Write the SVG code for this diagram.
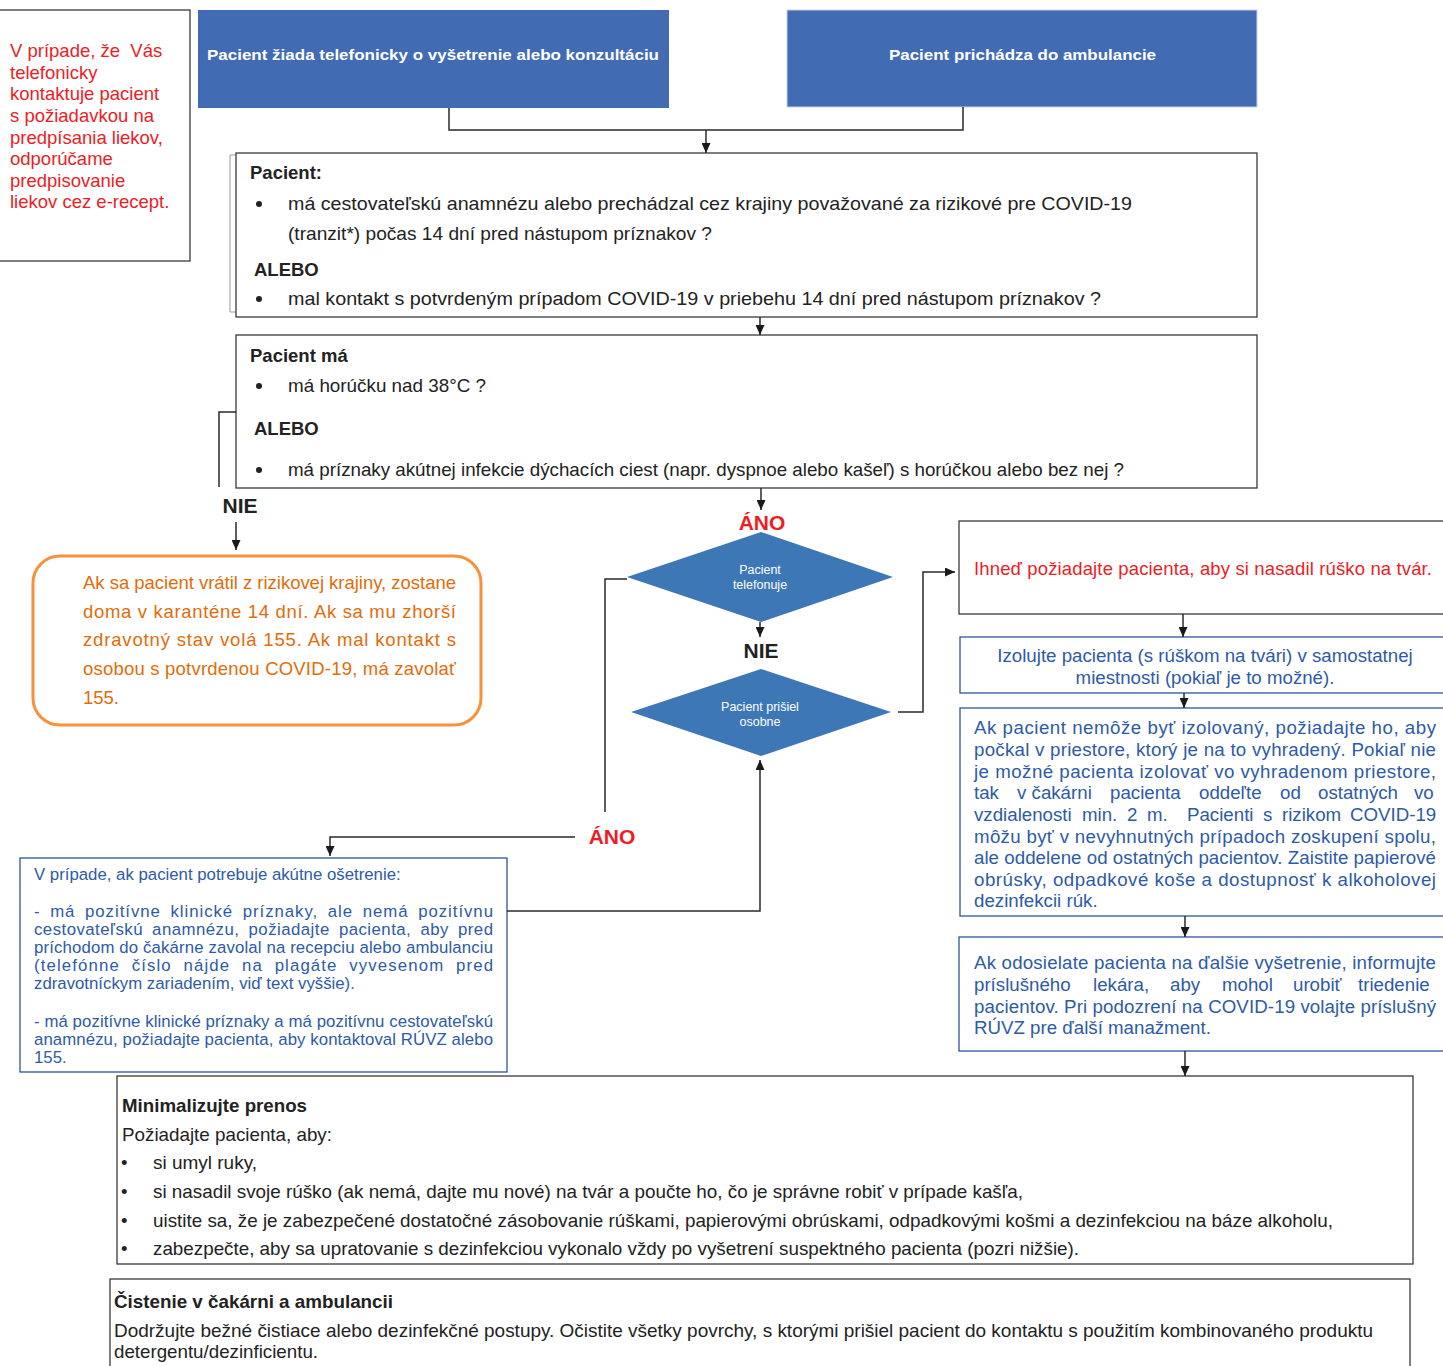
<svg xmlns="http://www.w3.org/2000/svg" width="1443" height="1366" viewBox="0 0 1443 1366">
<style>
text{font-family:"Liberation Sans",Arial,sans-serif;}
.box{fill:#fff;stroke:#3a3a3a;stroke-width:1.3;}
.bbox{fill:#fff;stroke:#2f5597;stroke-width:1.3;}
.blue{fill:#416bb3;}
.dia{fill:#3e77b6;}
.wt{fill:#fff;font-weight:bold;font-size:15px;}
.dt{fill:#fff;font-size:12.5px;}
.red{fill:#ee1c25;font-size:18.5px;}
.k{fill:#222;font-size:18.5px;}
.kb{fill:#222;font-size:18.5px;font-weight:bold;}
.or{fill:#e36c0a;font-size:18.5px;}
.bl{fill:#2e5aa8;font-size:18.7px;}
.bs{fill:#2e5aa8;font-size:16.8px;}
.lab{font-size:21px;font-weight:bold;}
.con{fill:none;stroke:#2a2a2a;stroke-width:1.5;}
.pre{white-space:pre;}
</style>
<defs>
<marker id="ah" viewBox="0 0 10 10" refX="10" refY="5" markerWidth="10" markerHeight="9" markerUnits="userSpaceOnUse" orient="auto" preserveAspectRatio="none"><path d="M0,0 L10,5 L0,10 z" fill="#1a1a1a"/></marker>
</defs>

<g id="note-erecept">
<rect x="-2" y="10" width="192" height="251" class="box"/>
<text class="red pre" x="10" y="57">V prípade, že  Vás</text>
<text class="red" x="10" y="79">telefonicky</text>
<text class="red" x="10" y="100">kontaktuje pacient</text>
<text class="red" x="10" y="122">s požiadavkou na</text>
<text class="red" x="10" y="144">predpísania liekov,</text>
<text class="red" x="10" y="165">odporúčame</text>
<text class="red" x="10" y="187">predpisovanie</text>
<text class="red" x="10" y="208">liekov cez e-recept.</text>
</g>

<g id="start-phone">
<rect x="198" y="10" width="471" height="98" class="blue"/>
<text class="wt" x="207" y="60" textLength="452" lengthAdjust="spacingAndGlyphs">Pacient žiada telefonicky o vyšetrenie alebo konzultáciu</text>
</g>

<g id="start-visit">
<rect x="787" y="10" width="470" height="97" class="blue" stroke="#c9d3e6" stroke-width="1"/>
<text class="wt" x="889" y="60" textLength="267" lengthAdjust="spacingAndGlyphs">Pacient prichádza do ambulancie</text>
</g>

<g id="q-travel">
<line x1="230" y1="155" x2="230" y2="312" stroke="#999" stroke-width="1"/>
<line x1="230" y1="155" x2="236" y2="155" stroke="#999" stroke-width="1"/>
<line x1="230" y1="312" x2="236" y2="312" stroke="#999" stroke-width="1"/>
<rect x="236" y="153" width="1021" height="164" class="box"/>
<text class="kb" x="250" y="179">Pacient:</text>
<circle cx="259" cy="204" r="3" fill="#222"/>
<text class="k" x="288" y="210" textLength="844" lengthAdjust="spacingAndGlyphs">má cestovateľskú anamnézu alebo prechádzal cez krajiny považované za rizikové pre COVID-19</text>
<text class="k" x="288" y="240" textLength="424" lengthAdjust="spacingAndGlyphs">(tranzit*) počas 14 dní pred nástupom príznakov ?</text>
<text class="kb" x="254" y="276">ALEBO</text>
<circle cx="259" cy="299" r="3" fill="#222"/>
<text class="k" x="288" y="305" textLength="813" lengthAdjust="spacingAndGlyphs">mal kontakt s potvrdeným prípadom COVID-19 v priebehu 14 dní pred nástupom príznakov ?</text>
</g>

<g id="q-symptoms">
<rect x="236" y="335" width="1021" height="153" class="box"/>
<text class="kb" x="250" y="362">Pacient má</text>
<circle cx="259" cy="386" r="3" fill="#222"/>
<text class="k" x="288" y="392" textLength="198" lengthAdjust="spacingAndGlyphs">má horúčku nad 38°C ?</text>
<text class="kb" x="254" y="435">ALEBO</text>
<circle cx="259" cy="470" r="3" fill="#222"/>
<text class="k" x="288" y="476" textLength="836" lengthAdjust="spacingAndGlyphs">má príznaky akútnej infekcie dýchacích ciest (napr. dyspnoe alebo kašeľ) s horúčkou alebo bez nej ?</text>
</g>

<g id="home-quarantine">
<rect x="33" y="556" width="448" height="169" rx="27" ry="27" fill="#fff" stroke="#f7923a" stroke-width="3"/>
<text class="or" x="83" y="589" textLength="373">Ak sa pacient vrátil z rizikovej krajiny,  zostane</text>
<text class="or" x="83" y="618" textLength="373">doma  v karanténe 14 dní.  Ak sa mu zhorší</text>
<text class="or" x="83" y="646" textLength="373">zdravotný stav  volá 155. Ak mal kontakt s</text>
<text class="or" x="83" y="675" textLength="373">osobou s potvrdenou COVID-19, má  zavolať</text>
<text class="or" x="83" y="704">155.</text>
</g>

<g id="d-phone">
<polygon points="627,577 761,532 893,577 761,622" class="dia"/>
<text class="dt" x="760" y="574" text-anchor="middle">Pacient</text>
<text class="dt" x="760" y="589" text-anchor="middle">telefonuje</text>
</g>

<g id="d-visit">
<polygon points="631,712 761,669 891,712 761,756" class="dia"/>
<text class="dt" x="760" y="711" text-anchor="middle">Pacient prišiel</text>
<text class="dt" x="760" y="726" text-anchor="middle">osobne</text>
</g>

<g id="acute-care">
<rect x="20" y="858" width="487" height="214" class="bbox"/>
<text class="bs" x="34" y="880">V prípade, ak pacient potrebuje akútne ošetrenie:</text>
<text class="bs" x="34" y="917" textLength="459" word-spacing="4">- má pozitívne klinické príznaky, ale nemá pozitívnu</text>
<text class="bs" x="34" y="935" textLength="459" word-spacing="4">cestovateľskú anamnézu, požiadajte pacienta, aby pred</text>
<text class="bs" x="34" y="953" textLength="459">príchodom do čakárne zavolal na recepciu alebo ambulanciu</text>
<text class="bs" x="34" y="971" textLength="459" word-spacing="6">(telefónne číslo nájde na plagáte vyvesenom pred</text>
<text class="bs" x="34" y="989">zdravotníckym zariadením, viď text vyššie).</text>
<text class="bs" x="34" y="1027" textLength="459">- má pozitívne klinické príznaky a má pozitívnu cestovateľskú</text>
<text class="bs" x="34" y="1045" textLength="459">anamnézu, požiadajte pacienta, aby kontaktoval  RÚVZ alebo</text>
<text class="bs" x="34" y="1063">155.</text>
</g>

<g id="mask">
<rect x="959" y="521" width="490" height="93" class="box"/>
<text class="red" x="974" y="575" textLength="458">Ihneď požiadajte pacienta, aby si nasadil rúško na tvár.</text>
</g>

<g id="isolate">
<rect x="960" y="637" width="490" height="56" class="bbox"/>
<text class="bl" x="1205" y="662" text-anchor="middle">Izolujte pacienta (s rúškom na tvári) v samostatnej</text>
<text class="bl" x="1205" y="684" text-anchor="middle">miestnosti (pokiaľ je to možné).</text>
</g>

<g id="waiting">
<rect x="960" y="708" width="490" height="208" class="bbox"/>
<text class="bl" x="974" y="734" textLength="462">Ak pacient nemôže byť izolovaný, požiadajte ho, aby</text>
<text class="bl" x="974" y="756" textLength="462">počkal v priestore, ktorý je na to vyhradený. Pokiaľ nie</text>
<text class="bl" x="974" y="778" textLength="462">je možné pacienta izolovať vo vyhradenom priestore,</text>
<text class="bl" y="799"><tspan x="974">tak</tspan><tspan x="1017">v čakárni</tspan><tspan x="1110">pacienta</tspan><tspan x="1199">oddeľte</tspan><tspan x="1280">od</tspan><tspan x="1318">ostatných</tspan><tspan x="1414">vo</tspan></text>
<text class="bl" y="821"><tspan x="974">vzdialenosti</tspan><tspan x="1082">min.</tspan><tspan x="1127">2</tspan><tspan x="1147">m.</tspan><tspan x="1187">Pacienti</tspan><tspan x="1263">s</tspan><tspan x="1282">rizikom</tspan><tspan x="1350">COVID-19</tspan></text>
<text class="bl" x="974" y="843" textLength="462">môžu byť v nevyhnutných prípadoch zoskupení spolu,</text>
<text class="bl" x="974" y="864" textLength="462">ale oddelene od ostatných pacientov. Zaistite papierové</text>
<text class="bl" x="974" y="886" textLength="462">obrúsky, odpadkové koše a dostupnosť k alkoholovej</text>
<text class="bl" x="974" y="907">dezinfekcii rúk.</text>
</g>

<g id="referral">
<rect x="959" y="937" width="490" height="114" class="bbox"/>
<text class="bl" x="974" y="969" textLength="462">Ak odosielate pacienta na ďalšie vyšetrenie, informujte</text>
<text class="bl" y="991"><tspan x="974">príslušného</tspan><tspan x="1093">lekára,</tspan><tspan x="1170">aby</tspan><tspan x="1222">mohol</tspan><tspan x="1293">urobiť</tspan><tspan x="1358">triedenie</tspan></text>
<text class="bl" x="974" y="1013" textLength="462">pacientov. Pri podozrení na COVID-19 volajte príslušný</text>
<text class="bl" x="974" y="1034">RÚVZ pre ďalší manažment.</text>
</g>

<g id="minimize">
<rect x="117" y="1076" width="1296" height="188" class="box"/>
<text class="kb" x="122" y="1112" textLength="185" lengthAdjust="spacingAndGlyphs">Minimalizujte prenos</text>
<text class="k" x="122" y="1141" textLength="210" lengthAdjust="spacingAndGlyphs">Požiadajte pacienta, aby:</text>
<text class="k" x="121" y="1169">•</text>
<text class="k" x="153" y="1169" textLength="104" lengthAdjust="spacingAndGlyphs">si umyl ruky,</text>
<text class="k" x="121" y="1198">•</text>
<text class="k" x="153" y="1198" textLength="870" lengthAdjust="spacingAndGlyphs">si nasadil svoje rúško (ak nemá, dajte mu nové) na tvár a poučte ho, čo je správne robiť v prípade kašľa,</text>
<text class="k" x="121" y="1227">•</text>
<text class="k" x="153" y="1227" textLength="1180" lengthAdjust="spacingAndGlyphs">uistite sa, že je zabezpečené dostatočné zásobovanie rúškami, papierovými obrúskami, odpadkovými košmi a dezinfekciou na báze alkoholu,</text>
<text class="k" x="121" y="1255">•</text>
<text class="k" x="153" y="1255" textLength="926" lengthAdjust="spacingAndGlyphs">zabezpečte, aby sa upratovanie s dezinfekciou vykonalo vždy po vyšetrení suspektného pacienta (pozri nižšie).</text>
</g>

<g id="cleaning">
<rect x="110" y="1279" width="1300" height="100" class="box"/>
<text class="kb" x="114" y="1308" textLength="279" lengthAdjust="spacingAndGlyphs">Čistenie v čakárni a ambulancii</text>
<text class="k" x="114" y="1337" textLength="1259" lengthAdjust="spacingAndGlyphs">Dodržujte bežné čistiace alebo dezinfekčné postupy. Očistite všetky povrchy, s ktorými prišiel pacient do kontaktu s použitím  kombinovaného produktu</text>
<text class="k" x="114" y="1358" textLength="204" lengthAdjust="spacingAndGlyphs">detergentu/dezinficientu.</text>
</g>

<g id="connectors">
<path class="con" d="M449,108 V130 H963 V107"/>
<path class="con" d="M706,130 V153" marker-end="url(#ah)"/>
<path class="con" d="M760,317 V335" marker-end="url(#ah)"/>
<path class="con" d="M236,412 H219 V487"/>
<path class="con" d="M236,522 V550" marker-end="url(#ah)"/>
<path class="con" d="M761,488 V510" marker-end="url(#ah)"/>
<path class="con" d="M760,622 V637" marker-end="url(#ah)"/>
<path class="con" d="M627,579 H605 V812"/>
<path class="con" d="M575,837 H330 V856" marker-end="url(#ah)"/>
<path class="con" d="M507,911 H760 V760" marker-end="url(#ah)"/>
<path class="con" d="M898,712 H923 V572 H955" marker-end="url(#ah)"/>
<path class="con" d="M1183,614 V637" marker-end="url(#ah)"/>
<path class="con" d="M1184,693 V708" marker-end="url(#ah)"/>
<path class="con" d="M1185,916 V937" marker-end="url(#ah)"/>
<path class="con" d="M1185,1051 V1076" marker-end="url(#ah)"/>
<text class="lab" x="240" y="513" text-anchor="middle" fill="#222">NIE</text>
<text class="lab" x="762" y="530" text-anchor="middle" fill="#ee1c25">ÁNO</text>
<text class="lab" x="761" y="658" text-anchor="middle" fill="#222">NIE</text>
<text class="lab" x="612" y="844" text-anchor="middle" fill="#ee1c25">ÁNO</text>
</g>
</svg>
